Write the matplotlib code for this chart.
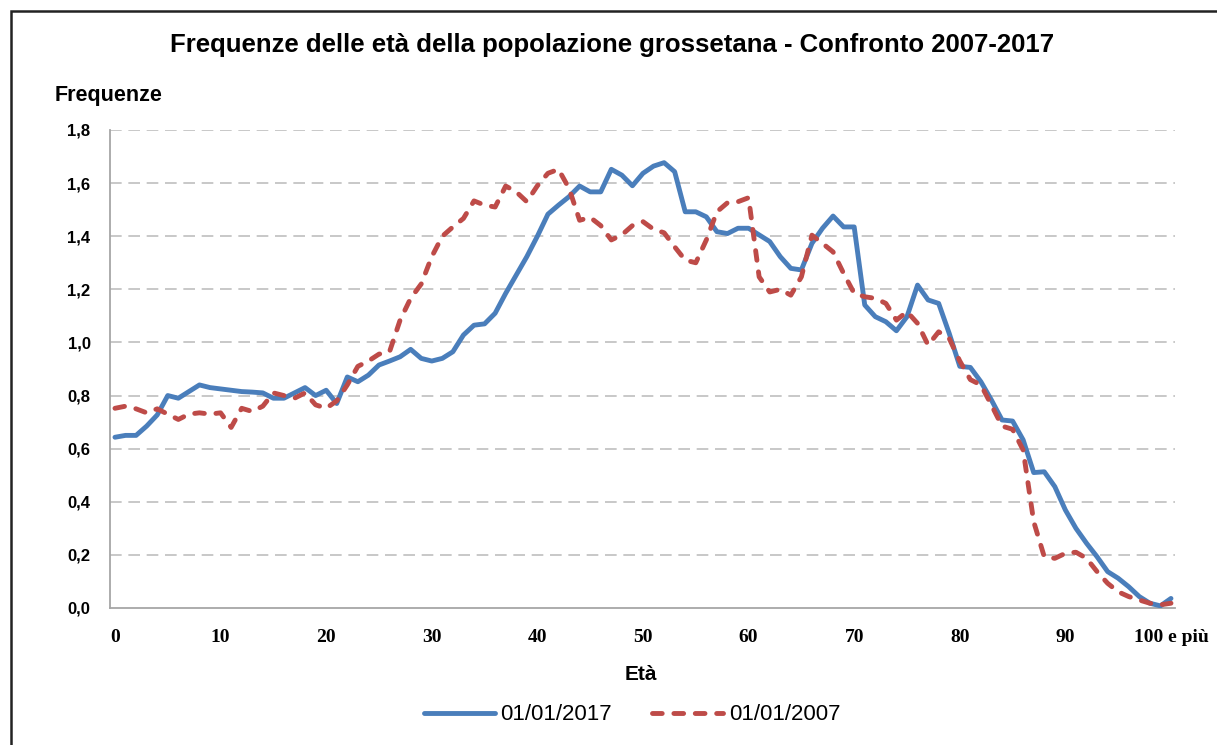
import matplotlib
matplotlib.use("Agg")
import matplotlib.pyplot as plt
from matplotlib.patches import Rectangle

# age classes 0..100 ("100 e più" = last class)
ages = list(range(0, 101))

freq_2017 = [
    0.643, 0.650, 0.650, 0.685, 0.727, 0.800, 0.790, 0.815, 0.840, 0.830,  # 0-9
    0.825, 0.820, 0.815, 0.813, 0.810, 0.790, 0.790, 0.810, 0.830, 0.800,  # 10-19
    0.820, 0.770, 0.870, 0.852, 0.877, 0.915, 0.930, 0.946, 0.974, 0.940,  # 20-29
    0.930, 0.940, 0.965, 1.028, 1.065, 1.070, 1.110, 1.185, 1.254, 1.323,  # 30-39
    1.400, 1.483, 1.517, 1.549, 1.589, 1.567, 1.567, 1.652, 1.630, 1.590,  # 40-49
    1.637, 1.664, 1.677, 1.643, 1.492, 1.492, 1.473, 1.417, 1.410, 1.430,  # 50-59
    1.430, 1.405, 1.380, 1.323, 1.279, 1.273, 1.373, 1.430, 1.476, 1.435,  # 60-69
    1.435, 1.141, 1.097, 1.078, 1.044, 1.097, 1.216, 1.160, 1.147, 1.034,  # 70-79
    0.910, 0.906, 0.852, 0.783, 0.708, 0.704, 0.633, 0.510, 0.513, 0.457,  # 80-89
    0.369, 0.300, 0.244, 0.193, 0.137, 0.112, 0.080, 0.043, 0.018, 0.008,  # 90-99
    0.036,                                                                 # 100+
]

freq_2007 = [
    0.752, 0.760, 0.750, 0.735, 0.750, 0.730, 0.710, 0.730, 0.735, 0.730,  # 0-9
    0.735, 0.680, 0.752, 0.740, 0.760, 0.810, 0.800, 0.790, 0.810, 0.765,  # 10-19
    0.752, 0.780, 0.840, 0.910, 0.930, 0.956, 0.965, 1.084, 1.166, 1.220,  # 20-29
    1.323, 1.400, 1.435, 1.467, 1.533, 1.517, 1.510, 1.589, 1.567, 1.530,  # 30-39
    1.590, 1.637, 1.652, 1.580, 1.460, 1.471, 1.440, 1.386, 1.405, 1.440,  # 40-49
    1.455, 1.426, 1.413, 1.360, 1.310, 1.300, 1.386, 1.492, 1.526, 1.530,  # 50-59
    1.545, 1.247, 1.190, 1.200, 1.178, 1.247, 1.404, 1.373, 1.341, 1.260,  # 60-69
    1.185, 1.172, 1.166, 1.147, 1.084, 1.116, 1.072, 0.990, 1.040, 1.015,  # 70-79
    0.930, 0.860, 0.840, 0.764, 0.685, 0.673, 0.595, 0.325, 0.193, 0.187,  # 80-89
    0.206, 0.210, 0.187, 0.137, 0.093, 0.061, 0.043, 0.030, 0.018, 0.012,  # 90-99
    0.018,                                                                 # 100+
]

xtick_pos = [0, 10, 20, 30, 40, 50, 60, 70, 80, 90, 100]
xtick_labels = ["0", "10", "20", "30", "40", "50", "60", "70", "80", "90", "100 e più"]
ytick_vals = [0.0, 0.2, 0.4, 0.6, 0.8, 1.0, 1.2, 1.4, 1.6, 1.8]

BLUE = "#4A7EBB"
RED = "#BE4B48"
GRID = "#BFBFBF"
SANS = ["Liberation Sans", "DejaVu Sans"]

W, H = 1217, 745
fig = plt.figure(figsize=(W / 100, H / 100), dpi=100)
fig.patch.set_facecolor("white")

# chart frame (only top/left edges visible in the picture)
fig.patches.append(Rectangle((11 / W, -0.05), 1.2, 1 - 11 / H + 0.05,
                             transform=fig.transFigure, fill=False,
                             edgecolor="#222222", lw=1.8))

ax = fig.add_axes([110 / W, 1 - 608 / H, (1175 - 110) / W, (608 - 130) / H])

ax.plot(ages, freq_2017, color=BLUE, lw=3.5, solid_joinstyle="round",
        solid_capstyle="round", label="01/01/2017", zorder=3)
ax.plot(ages, freq_2007, color=RED, lw=3.5, dashes=(2.0, 2.4),
        dash_capstyle="round", dash_joinstyle="round",
        label="01/01/2007", zorder=3)

ax.set_xlim(-0.47, 100.38)
ax.set_ylim(0, 1.8)

for v in ytick_vals[1:]:
    ax.axhline(v, color=GRID, lw=1.2, dashes=(7, 4), zorder=1)

ax.set_yticks(ytick_vals)
ax.set_yticklabels([f"{v:.1f}".replace(".", ",") for v in ytick_vals],
                   fontsize=12, fontweight="bold", family=SANS)
ax.set_xticks(xtick_pos)
ax.set_xticklabels(xtick_labels, fontsize=14, fontweight="bold",
                   family=["Liberation Serif", "DejaVu Serif"])
ax.tick_params(axis="both", length=0)
ax.tick_params(axis="x", pad=15)
ax.tick_params(axis="y", pad=14)

for s in ("top", "right"):
    ax.spines[s].set_visible(False)
for s in ("left", "bottom"):
    ax.spines[s].set_color("#A6A6A6")
    ax.spines[s].set_linewidth(1.3)

fig.text(612 / W, 1 - 45 / H,
         "Frequenze delle età della popolazione grossetana - Confronto 2007-2017",
         ha="center", va="center", fontsize=18.5, fontweight="bold", family=SANS)
fig.text(55 / W, 1 - 95 / H, "Frequenze", ha="left", va="center",
         fontsize=15.5, fontweight="bold", family=SANS)
fig.text(641 / W, 1 - 675 / H, "Età", ha="center", va="center",
         fontsize=15, fontweight="bold", family=SANS)

leg = fig.legend(loc="center", bbox_to_anchor=(632 / W, 1 - 715 / H), ncol=2,
                 frameon=False, handlelength=3.2, handletextpad=0.25,
                 columnspacing=1.8, prop={"family": SANS, "size": 16})
for h in leg.get_lines():
    h.set_solid_capstyle("round")
    h.set_dash_capstyle("round")

fig.savefig("out.png", dpi=100)
